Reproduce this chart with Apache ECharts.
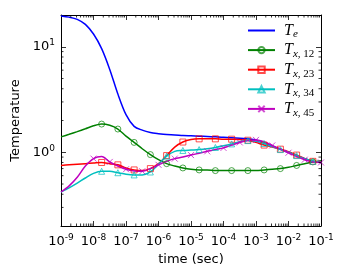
<!DOCTYPE html>
<html><head><meta charset="utf-8">
<script src="https://cdn.jsdelivr.net/npm/echarts@6/dist/echarts.min.js"></script>
<style>html,body{margin:0;padding:0;background:#fff}#c{width:350px;height:280px}</style>
</head><body><div id="c"></div>
<script>
const times = [1e-9,1.78e-9,3.16e-9,5.62e-9,1e-8,1.78e-8,3.16e-8,5.62e-8,1e-7,1.78e-7,3.16e-7,5.62e-7,1e-6,1.78e-6,3.16e-6,5.62e-6,1e-5,1.78e-5,3.16e-5,5.62e-5,1e-4,1.78e-4,3.16e-4,5.62e-4,1e-3,1.78e-3,3.16e-3,5.62e-3,1e-2,1.78e-2,3.16e-2,5.62e-2,1e-1];
const Te   = [19.6,19.1,18.2,16.3,13.2,9.6,6.1,3.56,2.27,1.76,1.62,1.54,1.50,1.47,1.46,1.44,1.43,1.42,1.41,1.40,1.39,1.37,1.36,1.34,1.31,1.24,1.15,1.07,1.00,0.93,0.87,0.82,0.80];
const Tx12 = [1.40,1.48,1.57,1.67,1.78,1.85,1.80,1.66,1.42,1.24,1.08,0.95,0.85,0.78,0.74,0.71,0.69,0.68,0.68,0.67,0.67,0.67,0.67,0.67,0.67,0.68,0.69,0.70,0.72,0.75,0.78,0.81,0.83];
const Tx23 = [0.75,0.76,0.77,0.78,0.79,0.80,0.78,0.76,0.71,0.68,0.67,0.70,0.78,0.93,1.12,1.25,1.32,1.34,1.34,1.34,1.33,1.33,1.32,1.30,1.24,1.17,1.12,1.07,1.01,0.94,0.87,0.82,0.80];
const Tx34 = [0.42,0.46,0.51,0.57,0.63,0.66,0.66,0.64,0.62,0.61,0.61,0.65,0.77,0.92,1.02,1.04,1.05,1.06,1.08,1.11,1.15,1.20,1.26,1.29,1.27,1.21,1.13,1.06,1.00,0.93,0.87,0.82,0.80];
const Tx45 = [0.42,0.48,0.58,0.74,0.87,0.91,0.81,0.74,0.69,0.665,0.66,0.70,0.76,0.82,0.87,0.90,0.94,0.98,1.02,1.06,1.10,1.17,1.24,1.29,1.31,1.26,1.16,1.07,0.99,0.91,0.85,0.81,0.80];
const xMinor = [];
for (let d = -9; d < -1; d++) for (let k = 2; k <= 9; k++) xMinor.push(k * Math.pow(10, d));
const yMinor = [0.3,0.4,0.5,0.6,0.7,0.8,0.9,2,3,4,5,6,7,8,9];

const chart = echarts.init(document.getElementById('c'));
const FONT = 'DejaVu Sans';
function mk(name, vals, color, symbol, markerStart) {
  return {
    name: name, type: 'line', smooth: 0.3,
    data: vals.map((v, i) => {
      const item = {value: [times[i], v]};
      if (!symbol || i < markerStart || (i - markerStart) % 2 !== 0) item.symbol = 'none';
      return item;
    }),
    symbol: symbol || 'none', symbolSize: 6, showSymbol: true,
    lineStyle: {color: color, width: 1.5},
    itemStyle: {color: 'rgba(255,255,255,0)', borderColor: color, borderWidth: 1, opacity: 0.7},
    emphasis: {disabled: true}, z: 3
  };
}
function logLabel(v) {
  const e = Math.round(Math.log10(v));
  if (Math.abs(Math.log10(v) - e) > 1e-6) return '';
  return '10{s|' + (e < 0 ? '-' + (-e) : e) + '}';
}
const supRich = {s: {fontSize: 9, fontFamily: FONT, color: '#000', verticalAlign: 'top', padding: [0,0,8,0]}};
function tickSeries(vals, isX) {
  return {
    type: 'custom', silent: true, z: 5, clip: false,
    data: vals.map(v => isX ? [v, 1] : [1e-5, v]),
    renderItem: function (params, api) {
      const cs = params.coordSys;
      const p = api.coord([api.value(0), api.value(1)]);
      const L = 2.5, st = {stroke: '#000', lineWidth: 0.8};
      if (isX) return {type: 'group', children: [
        {type: 'line', shape: {x1: p[0], y1: cs.y + cs.height, x2: p[0], y2: cs.y + cs.height - L}, style: st},
        {type: 'line', shape: {x1: p[0], y1: cs.y, x2: p[0], y2: cs.y + L}, style: st}]};
      return {type: 'group', children: [
        {type: 'line', shape: {x1: cs.x, y1: p[1], x2: cs.x + L, y2: p[1]}, style: st},
        {type: 'line', shape: {x1: cs.x + cs.width, y1: p[1], x2: cs.x + cs.width - L, y2: p[1]}, style: st}]};
    }
  };
}
const axBase = {
  axisLine: {show: true, onZero: false, lineStyle: {color: '#000', width: 1}},
  axisTick: {show: true, inside: true, length: 5, lineStyle: {color: '#000', width: 0.8}},
  splitLine: {show: false}
};
const legendNames = {
  Te: '{t|T}{se|e}', Tx12: '{t|T}{sx|x}{sn|, 12}', Tx23: '{t|T}{sx|x}{sn|, 23}',
  Tx34: '{t|T}{sx|x}{sn|, 34}', Tx45: '{t|T}{sx|x}{sn|, 45}'
};
const subBase = {fontFamily: 'Liberation Serif', fontSize: 11, color: '#000', verticalAlign: 'bottom', lineHeight: 19, padding: [7,0,0,0]};
chart.setOption({
  animation: false,
  backgroundColor: '#fff',
  grid: {left: 61, right: 29, top: 15, bottom: 54},
  legend: {
    orient: 'vertical', left: 247, top: 22, padding: 0, itemWidth: 27, itemHeight: 8, itemGap: 1.6,
    data: [{name: 'Te', itemStyle: {opacity: 0}}, 'Tx12', 'Tx23', 'Tx34', 'Tx45'],
    formatter: n => legendNames[n],
    textStyle: {rich: {
      t: {fontFamily: 'Liberation Serif', fontStyle: 'italic', fontSize: 16, color: '#000', lineHeight: 19, padding: [0,0,0,4]},
      se: Object.assign({fontStyle: 'italic'}, subBase),
      sx: Object.assign({fontStyle: 'italic'}, subBase),
      sn: Object.assign({}, subBase)
    }}
  },
  xAxis: [
    Object.assign({type: 'log', logBase: 10, min: 1e-9, max: 1e-1, interval: 1, position: 'bottom',
      name: 'time (sec)', nameLocation: 'middle', nameGap: 27,
      nameTextStyle: {fontFamily: FONT, fontSize: 13, color: '#000'},
      axisLabel: {formatter: logLabel, fontFamily: FONT, fontSize: 13, color: '#000', margin: 7, rich: supRich}}, axBase),
    Object.assign({type: 'log', logBase: 10, min: 1e-9, max: 1e-1, interval: 1, position: 'top',
      axisLabel: {show: false}}, axBase)
  ],
  yAxis: [
    Object.assign({type: 'log', logBase: 10, min: 0.2, max: 20, splitNumber: 2, position: 'left',
      name: 'Temperature', nameLocation: 'middle', nameGap: 34, nameRotate: 90,
      nameTextStyle: {fontFamily: FONT, fontSize: 13, color: '#000'},
      axisLabel: {formatter: logLabel, fontFamily: FONT, fontSize: 13, color: '#000', margin: 6, rich: supRich, showMinLabel: false, showMaxLabel: false}}, axBase),
    Object.assign({type: 'log', logBase: 10, min: 0.2, max: 20, splitNumber: 2, position: 'right',
      axisLabel: {show: false}}, axBase)
  ],
  series: [
    mk('Te', Te, '#0000ff', null, 0),
    mk('Tx12', Tx12, '#008000', 'circle', 5),
    mk('Tx23', Tx23, '#ff0000', 'rect', 5),
    mk('Tx34', Tx34, '#00bfbf', 'triangle', 5),
    mk('Tx45', Tx45, '#bf00bf', 'path://M0,0L10,10M10,0L0,10', 4),
    tickSeries(xMinor, true),
    tickSeries(yMinor, false)
  ]
});
</script></body></html>
